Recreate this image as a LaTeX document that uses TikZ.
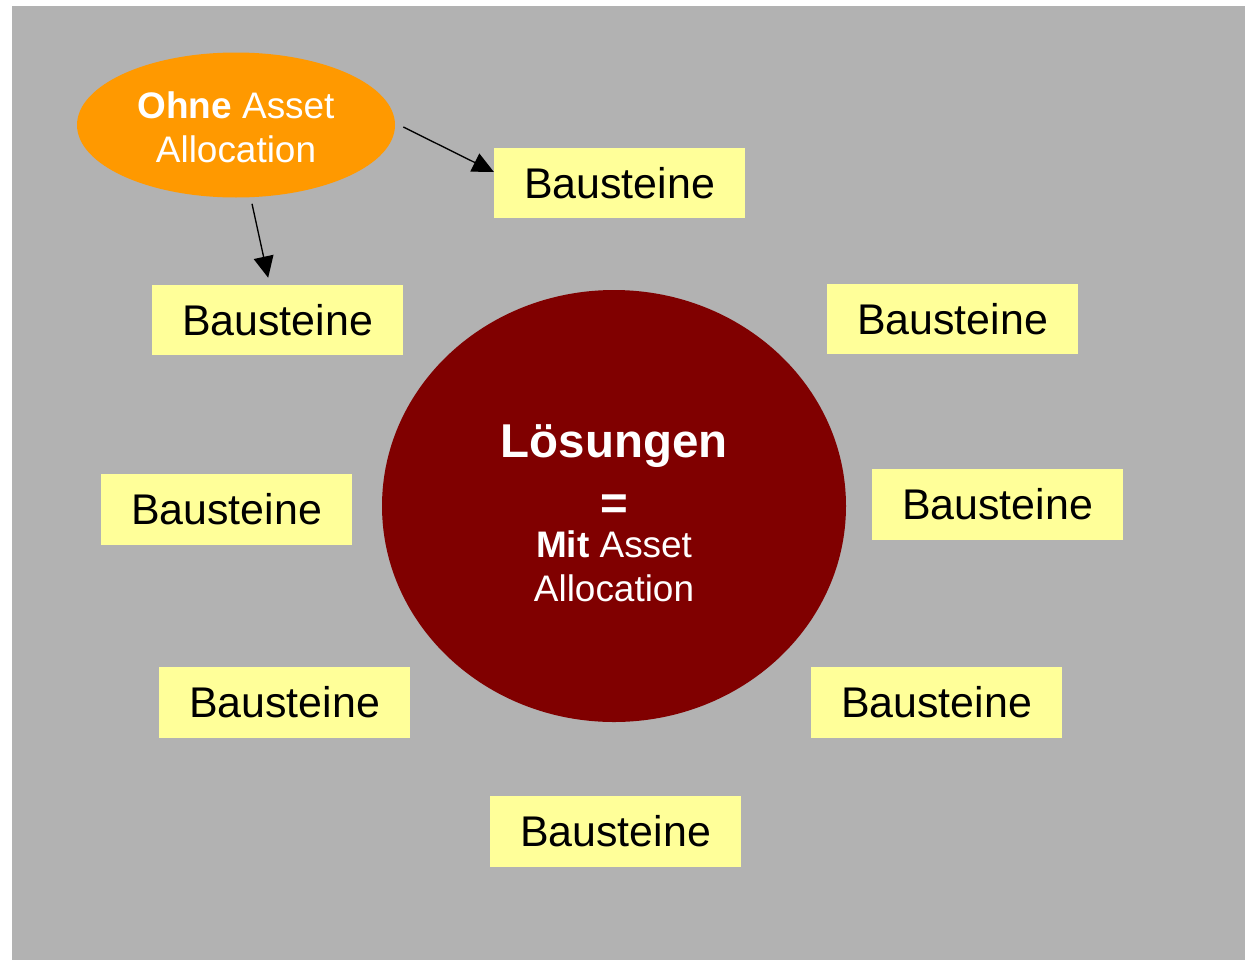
\documentclass[tikz,border=0pt]{standalone}
\usepackage{fontspec}
\setmainfont{Liberation Sans}
\usepackage{tikz}
\usetikzlibrary{shapes.geometric, arrows.meta, positioning}
\definecolor{slidegray}{HTML}{B2B2B2}
\definecolor{bausteinyellow}{HTML}{FFFF99}
\definecolor{ohneorange}{HTML}{FF9900}
\definecolor{loesungred}{HTML}{800000}
\tikzstyle{baustein} = [rectangle, minimum width=188pt, minimum height=53pt, text centered, inner sep=0pt, fill=bausteinyellow, font=\fontsize{32.2}{38}\selectfont]
\tikzstyle{ohne} = [ellipse, minimum width=238.5pt, minimum height=108.75pt, align=center, inner sep=0pt, fill=ohneorange, text=white, font=\fontsize{27.7}{33}\selectfont]
\tikzstyle{loesung} = [ellipse, minimum width=348pt, minimum height=324pt, align=center, inner sep=0pt, fill=loesungred, text=white, font=\fontsize{27.7}{33}\selectfont]
\tikzstyle{arrow} = [line width=1pt, -{Triangle[length=16pt, width=15pt]}]

\begin{document}
\begin{tikzpicture}[x=0.75pt, y=-0.75pt]
	    	\useasboundingbox (0,0) rectangle (1245,960);
	    	\fill [slidegray] (12,6) rectangle (1245,960);
	    	
	    	\node (ellOhne) [ohne, text height=56.3pt] at (236,125) {\textbf{Ohne} Asset\\Allocation};
	    	\node (cirLoesungen) [loesung, text height=143pt] at (614,506) {{\fontsize{35.6}{33}\selectfont\bfseries Lösungen}\\[14pt]{\fontsize{35.6}{33}\selectfont\bfseries =}\\[-5pt]\textbf{Mit} Asset\\Allocation};
	    	\node (boxTop) [baustein] at (619.5,183) {Bausteine};
	    	\node (boxUpLeft) [baustein] at (277.5,320) {Bausteine};
	    	\node (boxUpRight) [baustein] at (952.5,319) {Bausteine};
	    	\node (boxMidLeft) [baustein] at (226.5,509.5) {Bausteine};
	    	\node (boxMidRight) [baustein] at (997.5,504.5) {Bausteine};
	    	\node (boxLowLeft) [baustein] at (284.5,702.5) {Bausteine};
	    	\node (boxLowRight) [baustein] at (936.5,702.5) {Bausteine};
	    	\node (boxBottom) [baustein] at (615.5,831.5) {Bausteine};
	    	
	    	\draw [arrow] ([shift={(6pt,-1.5pt)}]ellOhne.east) -- ([yshift=8.25pt]boxTop.west);
	    	\draw [arrow] ([shift={(12pt,-4.5pt)}]ellOhne.south) -- ([shift={(-7pt,5pt)}]boxUpLeft.north);
    	\end{tikzpicture}
\end{document}
